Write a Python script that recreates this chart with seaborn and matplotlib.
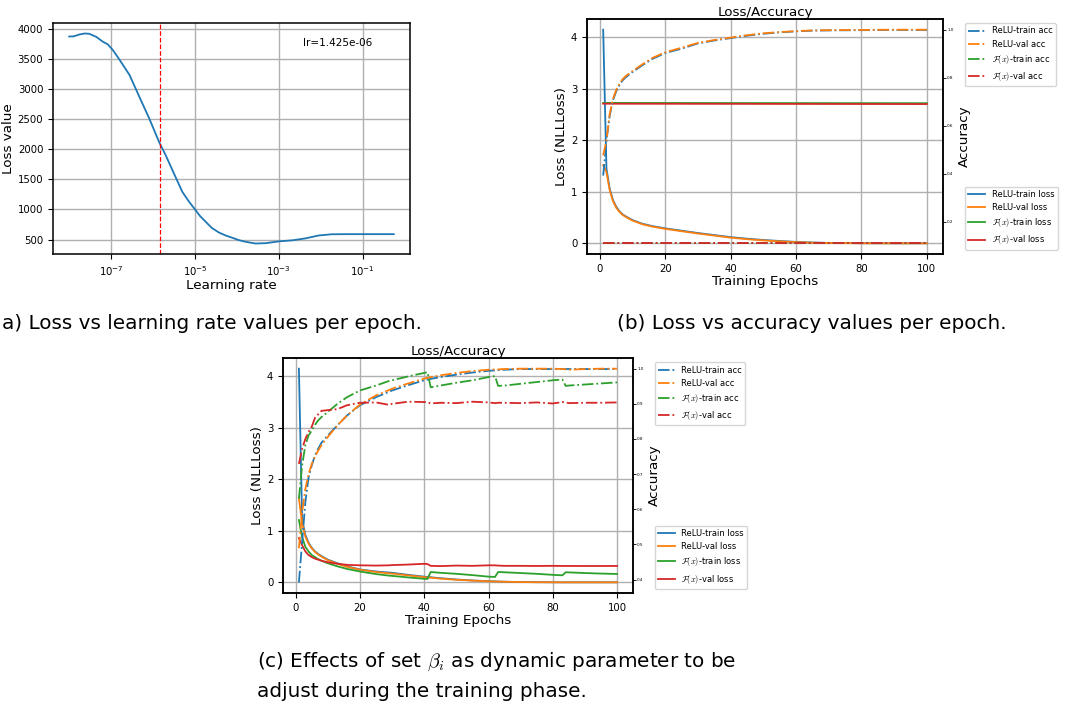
import matplotlib
matplotlib.use("Agg")
import matplotlib.pyplot as plt
from matplotlib.font_manager import FontProperties
from matplotlib.ticker import NullLocator
import seaborn as sns

# (a) learning-rate finder
lr_values = [1.0e-8, 1.26e-8, 1.78e-8, 2.34e-8, 3.0e-8, 4.4e-8, 6.3e-8, 8.3e-8,
             1.1e-7, 1.6e-7, 2.75e-7, 4.7e-7, 8.1e-7, 1.41e-6, 2.0e-6, 2.9e-6,
             5.0e-6, 7.1e-6, 1.0e-5, 1.32e-5, 1.8e-5, 2.5e-5, 3.7e-5, 5.4e-5,
             7.8e-5, 1.12e-4, 1.6e-4, 2.75e-4, 4.8e-4, 1.0e-3, 2.1e-3, 4.3e-3,
             8.9e-3, 1.8e-2, 4.0e-2, 1.0e-1, 5.5e-1]
lr_loss = [3870, 3872, 3905, 3920, 3915, 3865, 3785, 3740,
           3645, 3480, 3230, 2870, 2510, 2110, 1900, 1650,
           1290, 1135, 1000, 890, 795, 695, 618, 567,
           530, 490, 464, 435, 440, 470, 488, 520,
           568, 588, 590, 590, 590]
best_lr = 1.425e-06

# (b) ReLU vs F(x), F(x) does not learn
epochs_b = [1, 2, 3, 4, 5, 6, 7, 8, 10, 13, 16, 20, 25, 30, 35, 40, 45, 50,
            55, 60, 65, 70, 80, 90, 100]
relu_train_loss_b = [4.15, 1.45, 1.06, 0.84, 0.71, 0.62, 0.56, 0.52, 0.45, 0.38,
                     0.335, 0.29, 0.245, 0.2, 0.16, 0.12, 0.09, 0.065, 0.045,
                     0.028, 0.016, 0.008, 0.002, 0.0, 0.0]
relu_val_loss_b = [1.52, 1.38, 1.03, 0.82, 0.69, 0.61, 0.55, 0.51, 0.44, 0.37,
                   0.325, 0.28, 0.235, 0.19, 0.15, 0.11, 0.08, 0.057, 0.038,
                   0.023, 0.012, 0.006, 0.001, 0.0, 0.0]
relu_train_acc_b = [0.393, 0.538, 0.643, 0.707, 0.744, 0.77, 0.79, 0.803, 0.824,
                    0.852, 0.878, 0.903, 0.921, 0.943, 0.955, 0.965, 0.975,
                    0.983, 0.989, 0.993, 0.996, 0.997, 0.998, 0.999, 0.999]
relu_val_acc_b = [0.477, 0.54, 0.65, 0.712, 0.75, 0.775, 0.795, 0.808, 0.828,
                  0.856, 0.882, 0.906, 0.925, 0.945, 0.957, 0.967, 0.977,
                  0.985, 0.99, 0.994, 0.997, 0.998, 0.999, 1.0, 1.0]
fx_epochs_b = [1, 100]
fx_train_loss_b = [2.727, 2.722]
fx_val_loss_b = [2.712, 2.705]
fx_train_acc_b = [0.111, 0.111]
fx_val_acc_b = [0.111, 0.111]

# (c) beta_i as dynamic parameter
epochs_c = [1, 2, 3, 4, 5, 6, 7, 8, 10, 13, 16, 20, 25, 29, 30, 35, 40, 41, 42,
            45, 50, 55, 60, 62, 63, 65, 70, 75, 80, 83, 84, 85, 90, 95, 100]
relu_train_loss_c = [4.15, 1.22, 0.92, 0.77, 0.67, 0.60, 0.55, 0.51, 0.44, 0.37,
                     0.31, 0.25, 0.21, 0.19, 0.185, 0.145, 0.11, 0.104, 0.098,
                     0.08, 0.055, 0.036, 0.022, 0.018, 0.016, 0.012, 0.006,
                     0.003, 0.001, 0.0, 0.0, 0.0, 0.0, 0.0, 0.0]
relu_val_loss_c = [1.63, 1.15, 0.89, 0.75, 0.66, 0.59, 0.54, 0.50, 0.43, 0.36,
                   0.30, 0.245, 0.2, 0.175, 0.17, 0.135, 0.1, 0.095, 0.09,
                   0.072, 0.05, 0.033, 0.02, 0.016, 0.014, 0.01, 0.005,
                   0.002, 0.001, 0.0, 0.0, 0.0, 0.0, 0.0, 0.0]
fx_train_loss_c = [1.21, 0.88, 0.69, 0.60, 0.53, 0.49, 0.45, 0.42, 0.37, 0.31,
                   0.26, 0.21, 0.16, 0.13, 0.125, 0.095, 0.068, 0.065, 0.2,
                   0.185, 0.165, 0.14, 0.11, 0.104, 0.2, 0.195, 0.18, 0.165,
                   0.145, 0.136, 0.195, 0.193, 0.18, 0.17, 0.162]
fx_val_loss_c = [0.86, 0.72, 0.6, 0.53, 0.49, 0.46, 0.44, 0.42, 0.39, 0.36,
                 0.34, 0.33, 0.325, 0.33, 0.335, 0.345, 0.36, 0.355, 0.32,
                 0.315, 0.325, 0.32, 0.33, 0.33, 0.325, 0.32, 0.32, 0.318,
                 0.32, 0.318, 0.318, 0.318, 0.317, 0.317, 0.318]
relu_train_acc_c = [0.392, 0.507, 0.62, 0.69, 0.725, 0.753, 0.772, 0.789, 0.81,
                    0.839, 0.867, 0.896, 0.919, 0.934, 0.938, 0.953, 0.967,
                    0.969, 0.971, 0.976, 0.983, 0.989, 0.994, 0.995, 0.996,
                    0.997, 0.999, 0.999, 0.999, 0.999, 0.999, 0.999, 0.999,
                    0.999, 0.999]
relu_val_acc_c = [0.489, 0.592, 0.658, 0.70, 0.729, 0.75, 0.767, 0.782, 0.806,
                  0.839, 0.867, 0.898, 0.924, 0.939, 0.943, 0.958, 0.972,
                  0.974, 0.976, 0.981, 0.988, 0.993, 0.997, 0.998, 0.998,
                  0.999, 1.0, 1.0, 1.0, 0.999, 0.998, 0.997, 0.999, 1.0, 1.0]
fx_train_acc_c = [0.63, 0.725, 0.782, 0.81, 0.824, 0.84, 0.853, 0.862, 0.877,
                  0.90, 0.919, 0.938, 0.952, 0.965, 0.967, 0.978, 0.988, 0.99,
                  0.947, 0.952, 0.96, 0.967, 0.976, 0.979, 0.951, 0.952, 0.957,
                  0.962, 0.967, 0.969, 0.951, 0.952, 0.955, 0.958, 0.961]
fx_val_acc_c = [0.729, 0.772, 0.80, 0.82, 0.835, 0.86, 0.87, 0.88, 0.882, 0.885,
                0.896, 0.903, 0.904, 0.897, 0.9, 0.906, 0.905, 0.905, 0.901,
                0.903, 0.902, 0.906, 0.904, 0.902, 0.903, 0.903, 0.902, 0.904,
                0.901, 0.905, 0.904, 0.902, 0.903, 0.903, 0.904]

blue, orange, green, red = sns.color_palette("tab10")[:4]
FX = r"$\mathcal{F}(x)$"
legend_prop = FontProperties(size=6, math_fontfamily="cm")
LBL = 9.7
TCK = 7.3


def loss_acc_panel(ax, loss_series, acc_series):
    ax2 = ax.twinx()
    loss_h, acc_h = [], []
    for x, y, c in loss_series:
        sns.lineplot(x=x, y=y, ax=ax, color=c, lw=1.3, errorbar=None)
        loss_h.append(ax.lines[-1])
    for x, y, c in acc_series:
        sns.lineplot(x=x, y=y, ax=ax2, color=c, lw=1.3, linestyle="-.",
                     errorbar=None)
        acc_h.append(ax2.lines[-1])
    ax.grid(True, color="#b0b0b0", lw=1.0)
    ax.set_title("Loss/Accuracy", fontsize=LBL, pad=2)
    ax.set_xlabel("Training Epochs", fontsize=LBL, labelpad=1)
    ax.set_ylabel("Loss (NLLLoss)", fontsize=LBL, labelpad=2)
    ax2.set_ylabel("Accuracy", fontsize=LBL, labelpad=3)
    ax.tick_params(labelsize=TCK)
    ax2.tick_params(labelsize=3, length=2, width=0.6, pad=1)
    ax.set_xticks([0, 20, 40, 60, 80, 100])
    ax2.legend(acc_h, ["ReLU-train acc", "ReLU-val acc", FX + "-train acc",
                       FX + "-val acc"],
               loc="upper left", bbox_to_anchor=(1.05, 1), prop=legend_prop)
    ax.legend(loss_h, ["ReLU-train loss", "ReLU-val loss", FX + "-train loss",
                       FX + "-val loss"],
              loc="lower left", bbox_to_anchor=(1.05, 0), prop=legend_prop)
    for a in (ax, ax2):
        for s in a.spines.values():
            s.set_linewidth(1.1)


fig = plt.figure(figsize=(10.71, 7.10), dpi=100)
W, H = 1071, 710


def box(l, t, r, b):
    return [l / W, 1 - b / H, (r - l) / W, (b - t) / H]


# ---- (a) ----
ax_a = fig.add_axes(box(53, 23, 410, 254))
sns.lineplot(x=lr_values, y=lr_loss, ax=ax_a, color=blue, lw=1.3, errorbar=None)
ax_a.set_xscale("log")
ax_a.axvline(best_lr, color="red", ls="--", lw=0.9)
ax_a.set_xticks([1e-7, 1e-5, 1e-3, 1e-1])
ax_a.xaxis.set_minor_locator(NullLocator())
ax_a.grid(True, color="#b0b0b0", lw=1.0)
ax_a.text(0.70, 0.914, f"lr={best_lr:.3e}", transform=ax_a.transAxes,
          fontsize=7.5, va="center")
ax_a.set_xlabel("Learning rate", fontsize=LBL, labelpad=1)
ax_a.set_ylabel("Loss value", fontsize=LBL, labelpad=2)
ax_a.tick_params(labelsize=TCK)
for s in ax_a.spines.values():
    s.set_linewidth(1.1)

# ---- (b) ----
ax_b = fig.add_axes(box(587, 19, 943, 254))
loss_acc_panel(
    ax_b,
    [(epochs_b, relu_train_loss_b, blue), (epochs_b, relu_val_loss_b, orange),
     (fx_epochs_b, fx_train_loss_b, green), (fx_epochs_b, fx_val_loss_b, red)],
    [(epochs_b, relu_train_acc_b, blue), (epochs_b, relu_val_acc_b, orange),
     (fx_epochs_b, fx_train_acc_b, green), (fx_epochs_b, fx_val_acc_b, red)],
)

# ---- (c) ----
ax_c = fig.add_axes(box(283, 358, 633, 593))
loss_acc_panel(
    ax_c,
    [(epochs_c, relu_train_loss_c, blue), (epochs_c, relu_val_loss_c, orange),
     (epochs_c, fx_train_loss_c, green), (epochs_c, fx_val_loss_c, red)],
    [(epochs_c, relu_train_acc_c, blue), (epochs_c, relu_val_acc_c, orange),
     (epochs_c, fx_train_acc_c, green), (epochs_c, fx_val_acc_c, red)],
)

# captions (the "(" of caption a is cropped off in the source image)
cap = dict(family="DejaVu Sans", fontsize=14.4, va="baseline",
           math_fontfamily="cm")
fig.text(2 / W, 1 - 329 / H, "a) Loss vs learning rate values per epoch.",
         ha="left", **cap)
fig.text(617 / W, 1 - 329 / H, "(b) Loss vs accuracy values per epoch.",
         ha="left", **cap)
fig.text(257 / W, 1 - 667 / H,
         r"(c) Effects of set $\beta_i$ as dynamic parameter to be",
         ha="left", **cap)
fig.text(257 / W, 1 - 697 / H, "adjust during the training phase.",
         ha="left", **cap)

fig.savefig("out.png", dpi=100)
